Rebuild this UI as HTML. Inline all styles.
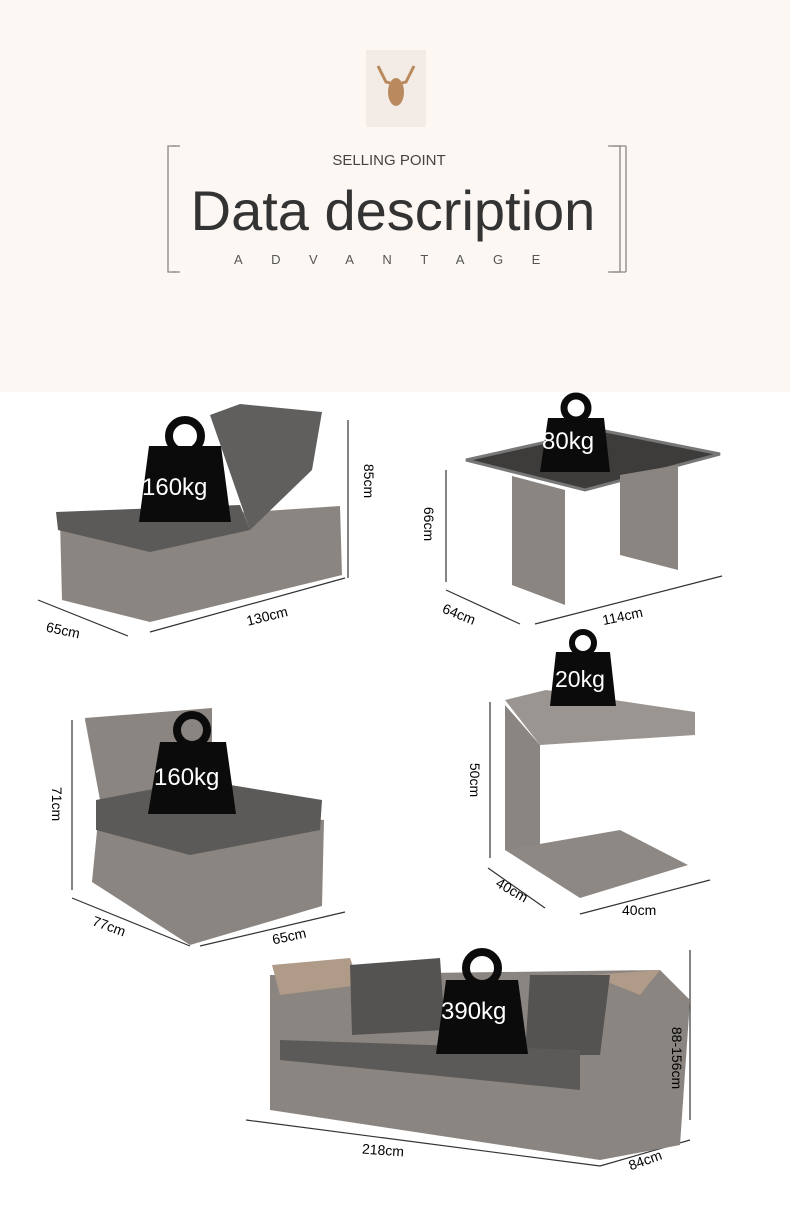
<!DOCTYPE html>
<html><head><meta charset="utf-8"><style>
body{margin:0;width:790px;height:1212px;position:relative;background:#fff;font-family:"Liberation Sans",sans-serif;overflow:hidden}
.top{position:absolute;left:0;top:0;width:790px;height:392px;background:#fcf7f3}
.t{position:absolute;white-space:nowrap}
</style></head><body>
<div class="top"></div>
<div style="position:absolute;left:366px;top:50px;width:60px;height:77px;background:#f3ece6"></div>
<svg style="position:absolute;left:0;top:0" width="790" height="1212">
<!-- deer -->
<g fill="#b98a5e"><ellipse cx="396" cy="92" rx="8" ry="14"/><path d="M378 66 l8 16 8 2 M414 66 l-8 16 -8 2" stroke="#b98a5e" stroke-width="3" fill="none"/></g>
<!-- brackets -->
<g stroke="#888" fill="none" stroke-width="1.3">
<path d="M176 146 H168 V272 H176"/><path d="M180 146 H172"/><path d="M180 272 H172"/>
<path d="M612 146 H620 V272 H612"/><path d="M608 146 H626 M608 272 H626"/>
<path d="M626 146 V272"/>
</g>
<!-- dimension lines -->
<g stroke="#333" stroke-width="1.2" fill="none">
<path d="M348 420 V578"/><path d="M38 600 L128 636"/><path d="M150 632 L345 578"/>
<path d="M446 470 V582"/><path d="M446 590 L520 624"/><path d="M535 624 L722 576"/>
<path d="M490 702 V858"/><path d="M488 868 L545 908"/><path d="M580 914 L710 880"/>
<path d="M72 720 V890"/><path d="M72 898 L190 946"/><path d="M200 946 L345 912"/>
<path d="M690 950 V1120"/><path d="M246 1120 L600 1166"/><path d="M600 1166 L690 1140"/>
</g>
<!-- lounger -->
<path d="M60 520 L250 512 L340 506 L342 575 L150 622 L62 600 Z" fill="#8a8580"/>
<path d="M56 512 L240 505 L250 530 L150 552 L58 530 Z" fill="#5c5a58"/>
<path d="M210 415 L240 404 L322 412 L312 470 L250 530 Z" fill="#615f5d"/>
<!-- table -->
<path d="M466 460 L600 430 L720 454 L585 490 Z" fill="#3d3c3b" stroke="#777" stroke-width="3"/>
<path d="M512 476 L565 490 L565 605 L512 585 Z" fill="#8a8580"/>
<path d="M620 475 L678 465 L678 570 L620 555 Z" fill="#8a8580"/>
<!-- side table -->
<path d="M505 700 L546 690 L695 712 L695 735 L540 745 Z" fill="#9a9590"/>
<path d="M505 705 L540 745 L540 860 L505 850 Z" fill="#8a8580"/>
<path d="M505 850 L620 830 L688 865 L580 898 Z" fill="#8d8884"/>
<!-- chair -->
<path d="M85 718 L212 708 L212 790 L100 800 Z" fill="#8a8580"/>
<path d="M85 718 L100 800 L92 882 L190 945 L322 906 L324 820 L100 800 L85 720Z" fill="#8a8580"/>
<path d="M96 800 L200 780 L322 800 L320 830 L190 855 L96 830 Z" fill="#5c5a58"/>
<!-- sofa -->
<path d="M270 975 L660 970 L690 1000 L680 1145 L600 1160 L270 1110 Z" fill="#8a8580"/>
<path d="M272 965 L350 958 L360 985 L280 995 Z M590 975 L660 970 L640 995 Z" fill="#b09a88"/>
<path d="M350 965 L440 958 L445 1030 L352 1035 Z M530 975 L610 975 L600 1055 L525 1055 Z" fill="#555352"/>
<path d="M280 1040 L580 1050 L580 1090 L280 1060 Z" fill="#5c5a58"/>
<!-- weights -->
<g fill="#0b0b0b">
<g transform="translate(135,418)"><circle cx="50" cy="18" r="16" fill="none" stroke="#0b0b0b" stroke-width="8"/><path d="M14 28 H86 L96 104 H4 Z"/></g>
<g transform="translate(538,392)"><circle cx="38" cy="16" r="12" fill="none" stroke="#0b0b0b" stroke-width="7"/><path d="M10 26 H66 L72 80 H2 Z"/></g>
<g transform="translate(548,628)"><circle cx="35" cy="15" r="11" fill="none" stroke="#0b0b0b" stroke-width="6"/><path d="M8 24 H62 L68 78 H2 Z"/></g>
<g transform="translate(146,712)"><circle cx="46" cy="18" r="15" fill="none" stroke="#0b0b0b" stroke-width="8"/><path d="M14 30 H80 L90 102 H2 Z"/></g>
<g transform="translate(432,950)"><circle cx="50" cy="18" r="16" fill="none" stroke="#0b0b0b" stroke-width="8"/><path d="M14 30 H86 L96 104 H4 Z"/></g>
</g>
</svg>
<div class="t" style="left:0;width:778px;text-align:center;top:152px;font-size:15px;color:#444">SELLING POINT</div>
<div class="t" style="left:0;width:786px;text-align:center;top:178px;font-size:56px;color:#333">Data description</div>
<div class="t" style="left:234px;top:252px;font-size:13px;color:#555;letter-spacing:28.5px">ADVANTAGE</div>
<div class="t" style="left:142px;top:474px;font-size:24px;color:#fff">160kg</div>
<div class="t" style="left:542px;top:428px;font-size:24px;color:#fff">80kg</div>
<div class="t" style="left:555px;top:666px;font-size:23px;color:#fff">20kg</div>
<div class="t" style="left:154px;top:764px;font-size:24px;color:#fff">160kg</div>
<div class="t" style="left:441px;top:998px;font-size:24px;color:#fff">390kg</div>
<div class="t" style="left:352px;top:473px;font-size:14px;transform:rotate(90deg)">85cm</div>
<div class="t" style="left:46px;top:622px;font-size:14px;transform:rotate(12deg)">65cm</div>
<div class="t" style="left:246px;top:608px;font-size:14px;transform:rotate(-14deg)">130cm</div>
<div class="t" style="left:412px;top:516px;font-size:14px;transform:rotate(90deg)">66cm</div>
<div class="t" style="left:442px;top:606px;font-size:14px;transform:rotate(22deg)">64cm</div>
<div class="t" style="left:602px;top:608px;font-size:14px;transform:rotate(-12deg)">114cm</div>
<div class="t" style="left:458px;top:772px;font-size:14px;transform:rotate(90deg)">50cm</div>
<div class="t" style="left:495px;top:882px;font-size:14px;transform:rotate(30deg)">40cm</div>
<div class="t" style="left:622px;top:902px;font-size:14px">40cm</div>
<div class="t" style="left:40px;top:796px;font-size:14px;transform:rotate(90deg)">71cm</div>
<div class="t" style="left:92px;top:918px;font-size:14px;transform:rotate(20deg)">77cm</div>
<div class="t" style="left:272px;top:928px;font-size:14px;transform:rotate(-12deg)">65cm</div>
<div class="t" style="left:646px;top:1050px;font-size:14px;transform:rotate(90deg)">88-156cm</div>
<div class="t" style="left:362px;top:1142px;font-size:14px;transform:rotate(4deg)">218cm</div>
<div class="t" style="left:628px;top:1152px;font-size:14px;transform:rotate(-20deg)">84cm</div>
</body></html>
